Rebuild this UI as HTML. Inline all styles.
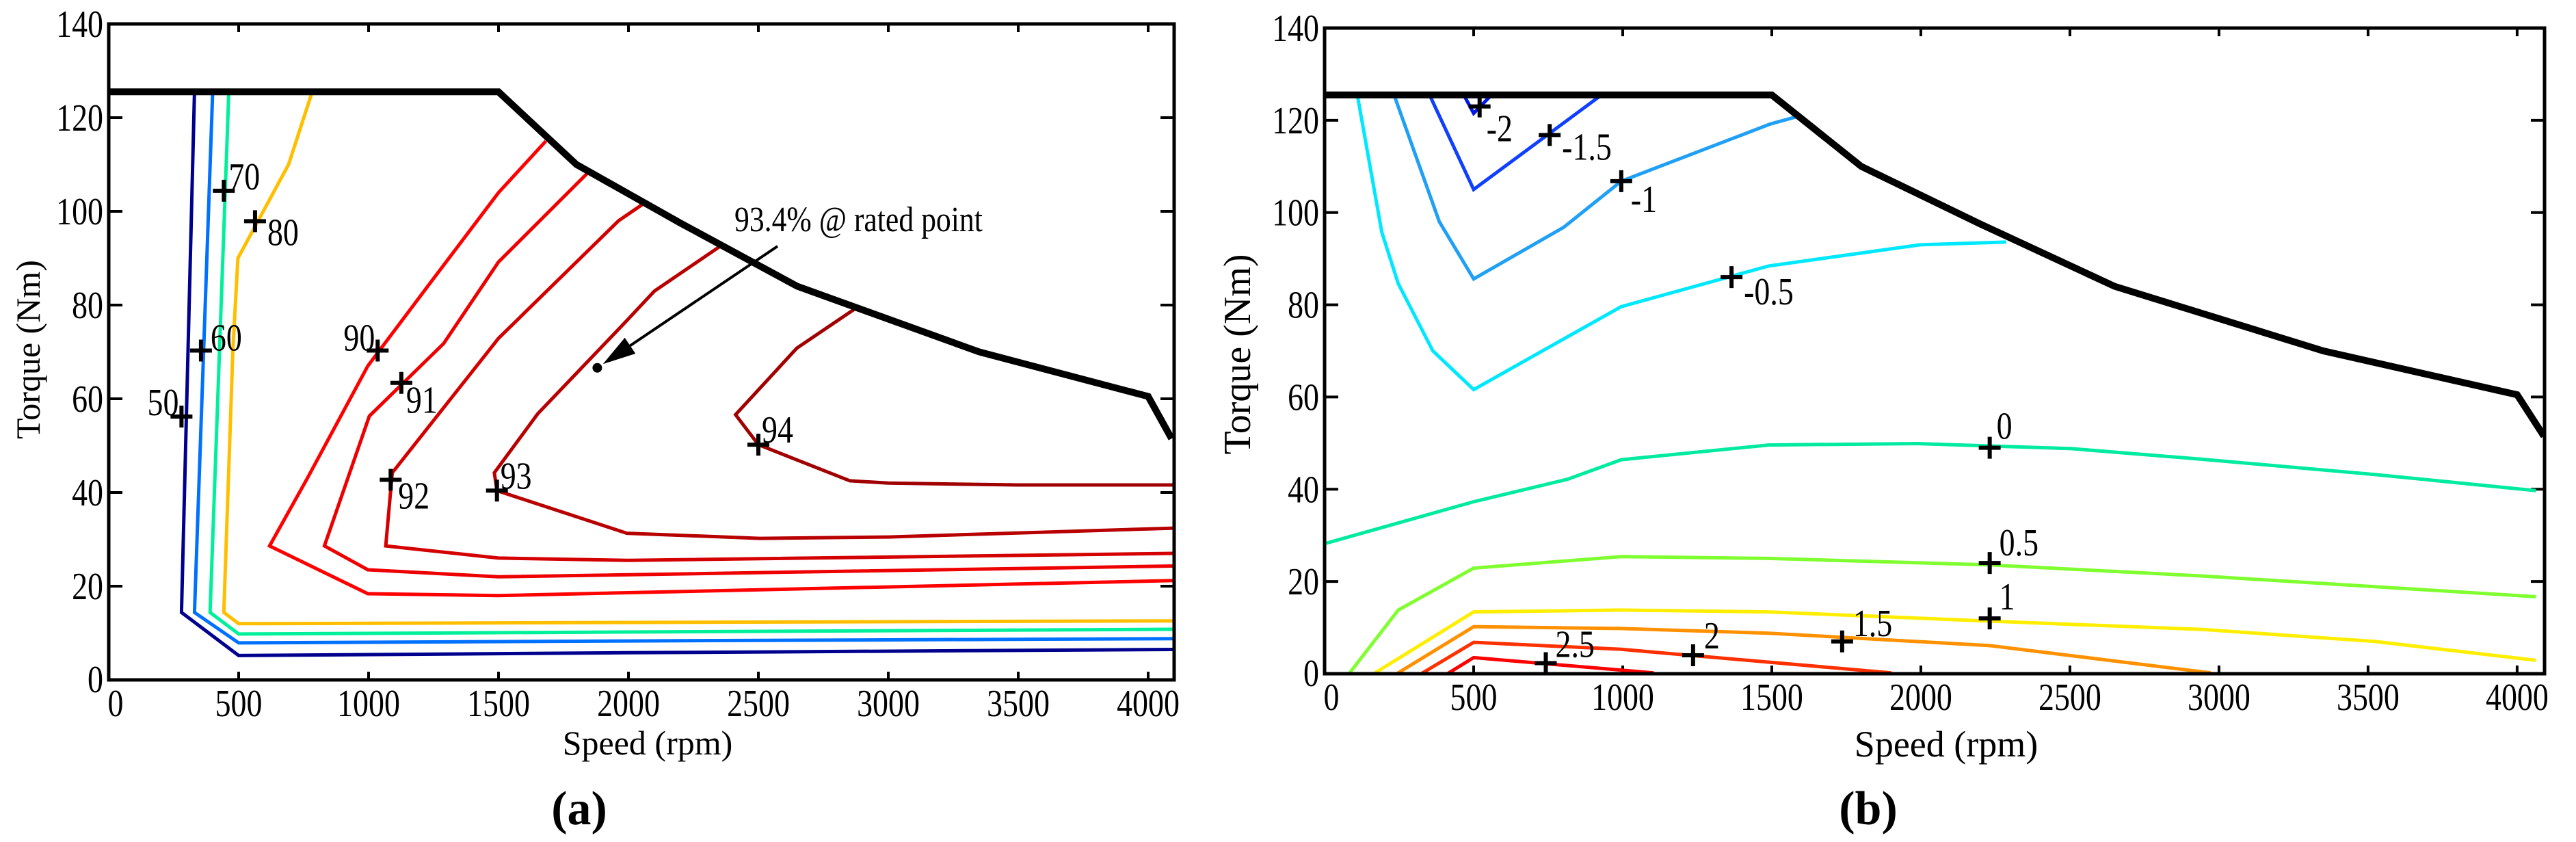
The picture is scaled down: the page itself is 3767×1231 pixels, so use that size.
<!DOCTYPE html>
<html><head><meta charset="utf-8">
<style>
html,body{margin:0;padding:0;background:#fff;}
svg{display:block;}
text{font-family:"Liberation Serif",serif;fill:#000;}
</style></head>
<body>
<svg id="fig" width="3767" height="1231" viewBox="0 0 3767 1231" xmlns="http://www.w3.org/2000/svg"></svg>
<script>
// ---------- shared data ----------
const xTicks = [0,500,1000,1500,2000,2500,3000,3500,4000];
const yTicks = [0,20,40,60,80,100,120,140];
const envSpeed = [0,1500,1800,2200,2650,3350,4000,4090];
const envTorque = [125.5,125.5,110,97.5,84,70,60.5,51.5];

// ---------- chart (a) efficiency ----------
const effLevels = ["50","60","70","80","90","91","92","93","94"];
const effSpeed = [
  [330,280,500,2000,4100],
  [400,330,500,2000,4100],
  [462,390,500,3000,4100],
  [783,692,497,478,443,500,4100],
  [1682,1500,1248,997,764,619,997,1500,4100],
  [1852,1500,1289,1003,830,997,1500,4100],
  [2057,1962,1500,1091,1066,1500,2000,4100],
  [2349,2100,1994,1651,1484,1494,1994,2506,3000,4100],
  [2877,2648,2412,2500,2852,3000,3500,4100]
];
const effTorque = [
  [125.5,14.4,5.2,5.8,6.5],
  [125.5,14.4,7.9,8.3,8.8],
  [125.5,14.4,9.8,10.5,10.8],
  [125.5,110,90,70.6,14.4,12,12.6],
  [115,104,85.5,67,43,28.6,18.4,18,21.2],
  [108.7,89.2,71.8,56.3,28.6,23.5,22,24.3],
  [101.6,98,72.9,44.2,28.6,26,25.5,27],
  [92.4,83,76.7,56.8,44.2,40.4,31.3,30.2,30.5,32.4],
  [79.4,70.8,56.6,50.2,42.5,42,41.6,41.6]
];
const effMarkSpeed = [280,355,443,563,1035,1126,1085,1494,2500];
const effMarkTorque = [56.2,70.3,104.4,97.9,70.3,63.4,42.7,40.4,50.2];
const ratedSpeed = 1880, ratedTorque = 66.6;

// ---------- chart (b) difference ----------
const difLevels = ["-2","-1.5","-1","-0.5","0","0.5","1","1.5","2","2.5"];
const difSpeed = [
  [467,500,560],
  [352,500,929],
  [233,385,500,802,995,1495,1585],
  [110,192,247,363,500,747,995,1489,1997,2286],
  [0,500,816,995,1489,1984,2505,2945,3522,4063],
  [82,247,500,995,1489,2231,2945,4063],
  [165,500,995,1489,2231,2945,3522,4063],
  [242,500,995,1489,2231,2972],
  [324,500,995,1901],
  [412,500,1104]
];
const difTorque = [
  [125.5,121.5,125.5],
  [125.5,105,125.5],
  [125.5,98,85.6,96.8,106.8,119.2,120.8],
  [125.4,95.7,84.6,70,61.6,70.6,79.6,88.4,93,93.6],
  [28.2,37.3,42.2,46.4,49.6,49.9,48.8,46.5,43.2,39.7],
  [0,13.8,22.9,25.4,25,23.6,21.2,16.7],
  [0,13.4,13.8,13.4,11.4,9.6,7,2.9],
  [0,10.2,9.8,8.8,6.1,0.2],
  [0,6.8,5.3,0.2],
  [0,3.5,0.2]
];
const difMarkSpeed = [520,755,995,1365,2231,2231,2231,1736,1236,742];
const difMarkTorque = [123,116.8,106.8,86,49,24,12,7,4,2.3];

// ---------- styling (not data) ----------
const effColors = ["#00008f","#0070ff","#00f09a","#ffbf00","#ff0000","#ee0000","#d40000","#b80000","#a00000"];
const effLblOff = [[-4,-2,"end"],[14,0,"start"],[7,-2,"start"],[18,35,"start"],[-4,0,"end"],[7,44,"start"],[11,42,"start"],[5,-3,"start"],[5,-3,"start"]];
const difColors = ["#0018e8","#1040ff","#20a0f5","#00e8ff","#00eaa0","#80ff30","#ffee00","#ff9000","#ff3000","#ff0000"];
const difLblOff = [[10,51],[18,36],[14,45],[18,40],[10,-13],[14,-11],[14,-13],[16,-8],[16,-10],[14,-9]];

const NS = "http://www.w3.org/2000/svg";
const fig = document.getElementById("fig");
function el(tag, attrs, parent){
  const e = document.createElementNS(NS, tag);
  for (const k in attrs) e.setAttribute(k, attrs[k]);
  (parent||fig).appendChild(e);
  return e;
}
function txt(parent, x, y, s, size, anchor, sx){
  const t = el("text", {"font-size":size, "text-anchor":anchor||"start",
    transform:"translate("+x+","+y+") scale("+(sx||0.82)+",1)"}, parent);
  t.textContent = s;
  return t;
}

function makeChart(id, L, R, T, B, xmax, opts){
  const g = el("g", {});
  
  
  const sx = v => L + v/xmax*(R-L);
  const sy = v => B - v/140*(B-T);
  const clipId = "clip-"+id;
  const cp = el("clipPath", {id:clipId}, g);
  el("rect", {x:L, y:T, width:R-L, height:B-T}, cp);
  const tg = el("g", {stroke:"#000","stroke-width":4}, g);
  
  
  xTicks.forEach(v=>{
    if (v===0) return;
    el("line",{x1:sx(v),x2:sx(v),y1:B,y2:B-12},tg);
    el("line",{x1:sx(v),x2:sx(v),y1:T,y2:T+12},tg);
  });
  yTicks.forEach(v=>{
    if (v===0||v===140) return;
    el("line",{x1:L,x2:L+20,y1:sy(v),y2:sy(v)},tg);
    el("line",{x1:R,x2:R-20,y1:sy(v),y2:sy(v)},tg);
  });
  const xl = el("g",{},g);
  
  
  xTicks.forEach(v=>{ txt(xl, sx(v)+(v===0?10:0), B+53, String(v), 56, "middle"); });
  const yl = el("g",{},g);
  
  
  yTicks.forEach(v=>{ txt(yl, L-8, sy(v)+(v===0?18:19), String(v), 56, "end"); });
  const cg = el("g",{"clip-path":"url(#"+clipId+")",fill:"none","stroke-width":5,"stroke-linejoin":"miter"},g);
  
  
  opts.speeds.forEach((xs,i)=>{
    const d = xs.map((x,j)=>(j?"L":"M")+sx(x).toFixed(1)+","+sy(opts.torques[i][j]).toFixed(1)).join(" ");
    const p = el("path",{d:d,stroke:opts.colors[i]},cg);
    
    
  });
  const ed = envSpeed.map((x,j)=>(j?"L":"M")+sx(x).toFixed(1)+","+sy(envTorque[j]).toFixed(1)).join(" ");
  const env = el("path",{d:ed,stroke:"#000","stroke-width":10,fill:"none","clip-path":"url(#"+clipId+")"},g);
  
  
  const fr = el("rect",{x:L,y:T,width:R-L,height:B-T,fill:"none",stroke:"#000","stroke-width":5},g);
  
  
  const mg = el("g",{},g);
  
  
  opts.levels.forEach((lv,i)=>{
    const mx = sx(opts.mSpeed[i]), my = sy(opts.mTorque[i]);
    const m = el("path",{d:"M"+(mx-16)+","+my+"H"+(mx+16)+"M"+mx+","+(my-16)+"V"+(my+16),stroke:"#000","stroke-width":6},mg);
    
    
    const o = opts.off[i];
    const t = txt(mg, mx+o[0], my+o[1], lv, 56, o[2]||"start");
    
    
  });
  return {sx, sy, g};
}

const A = makeChart("a", 159, 1717, 35, 994, 4100, {levels:effLevels, speeds:effSpeed, torques:effTorque, colors:effColors, mSpeed:effMarkSpeed, mTorque:effMarkTorque, off:effLblOff});
const Bc = makeChart("b", 1937, 3721, 41, 985, 4092, {levels:difLevels, speeds:difSpeed, torques:difTorque, colors:difColors, mSpeed:difMarkSpeed, mTorque:difMarkTorque, off:difLblOff});

// annotation on (a)
const an = el("g",{},A.g);


const rx = A.sx(ratedSpeed), ry = A.sy(ratedTorque);
const ax0 = 1137, ay0 = 360;
const dx = rx-ax0, dy = ry-ay0, len = Math.hypot(dx,dy), ux = dx/len, uy = dy/len;
const tipX = rx - ux*10, tipY = ry - uy*10;
const bX = tipX - ux*48, bY = tipY - uy*48;
el("line",{x1:ax0,y1:ay0,x2:bX,y2:bY,stroke:"#000","stroke-width":4},an);
el("polygon",{points:tipX+","+tipY+" "+(bX-uy*14)+","+(bY+ux*14)+" "+(bX+uy*14)+","+(bY-ux*14),fill:"#000"},an);
el("circle",{cx:rx,cy:ry,r:7,fill:"#000"},an);
txt(an, 1074, 338, "93.4% @ rated point", 52, "start", 0.84);

function title(x,y,s,size,rot,name,bold){
  const t = el("text",{"font-size":size,"text-anchor":"middle","font-weight":bold?"bold":"normal",
    transform:"translate("+x+","+y+")"+(rot?" rotate(-90)":"")});
  t.textContent = s;
  
  
}
title(947,1103,"Speed (rpm)",50,false,"x-axis-title-a");
title(2846,1106,"Speed (rpm)",54,false,"x-axis-title-b");
title(58,511,"Torque (Nm)",50,true,"y-axis-title-a");
title(1828,518,"Torque (Nm)",56,true,"y-axis-title-b");
title(847,1205,"(a)",70,false,"caption-a",true);
title(2732,1205,"(b)",70,false,"caption-b",true);
</script>
</body></html>
